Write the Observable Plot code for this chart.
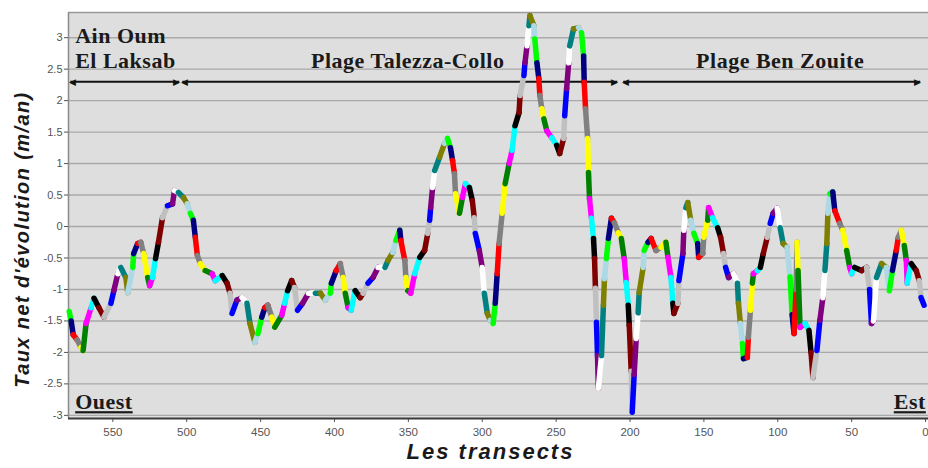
<!DOCTYPE html>
<html>
<head>
<meta charset="utf-8">
<script src="https://cdn.jsdelivr.net/npm/d3@7"></script>
<script src="https://cdn.jsdelivr.net/npm/@observablehq/plot@0.6"></script>
<style>
  body { margin: 0; background: #fff; }
  #chart { width: 928px; height: 468px; overflow: hidden; }
</style>
</head>
<body>
<div id="chart"></div>
<script>
// Transect numbers (x) and net shoreline change rate in m/yr (y)
const transects = [
  579.5, 578.2, 576.8, 574.2, 571.5, 570.1, 568.1, 564.7, 562.7, 559.4,
  556.0, 551.3, 549.3, 546.6, 544.6, 541.2, 539.9, 536.5, 535.9, 533.2,
  531.1, 529.1, 526.4, 525.1, 523.1, 521.1, 519.1, 516.4, 513.0, 509.6,
  508.3, 505.6, 502.2, 499.6, 497.5, 495.5, 494.2, 492.8, 490.8, 487.5,
  482.8, 480.7, 476.0, 472.7, 470.7, 469.3, 466.0, 462.6, 459.2, 457.2,
  453.9, 451.8, 449.2, 447.1, 445.1, 442.4, 440.4, 435.7, 433.7, 431.7,
  429.0, 427.0, 425.0, 421.6, 417.6, 412.9, 409.5, 406.2, 402.8, 402.1,
  398.8, 396.1, 394.1, 392.7, 390.7, 388.7, 386.0, 382.6, 380.6, 377.3,
  373.9, 370.5, 365.8, 363.8, 360.5, 358.4, 355.8, 355.1, 352.4, 351.7,
  350.4, 348.4, 345.7, 342.3, 339.0, 336.9, 335.6, 334.9, 333.6, 332.2,
  328.9, 325.5, 323.5, 321.5, 320.1, 318.8, 318.1, 315.4, 313.4, 311.4,
  308.7, 306.7, 305.4, 304.7, 302.0, 300.0, 298.6, 296.6, 294.6, 292.6,
  291.2, 289.9, 288.6, 286.5, 284.5, 281.8, 279.8, 277.8, 275.1, 274.4,
  271.8, 271.1, 269.7, 268.4, 267.7, 265.0, 264.4, 263.0, 261.7, 261.0,
  259.7, 258.3, 256.3, 252.9, 249.6, 247.6, 244.9, 244.2, 242.9, 241.5,
  240.8, 238.2, 234.8, 232.8, 231.4, 231.0, 230.1, 228.7, 228.1, 227.4,
  226.1, 224.7, 224.0, 223.4, 222.7, 222.0, 221.4, 219.3, 218.0, 217.3,
  216.0, 214.6, 212.6, 210.6, 207.9, 205.9, 203.9, 202.5, 201.2, 200.5,
  199.2, 198.5, 197.2, 195.8, 194.5, 193.8, 191.1, 190.4, 187.8, 185.7,
  182.4, 179.0, 175.7, 174.3, 172.3, 171.0, 170.3, 167.6, 166.9, 164.2,
  163.6, 162.2, 160.9, 158.9, 156.8, 154.2, 153.5, 150.8, 150.1, 147.4,
  146.8, 144.1, 140.7, 138.7, 136.7, 135.3, 133.3, 130.0, 127.3, 126.6,
  125.3, 123.9, 123.2, 120.6, 119.9, 118.5, 117.2, 116.5, 113.8, 111.8,
  109.8, 107.1, 105.1, 103.1, 100.4, 98.4, 96.4, 93.7, 91.7, 90.3,
  89.0, 87.6, 87.0, 86.3, 84.9, 81.6, 78.9, 77.5, 76.2, 73.5,
  71.5, 69.5, 68.1, 66.8, 66.1, 64.8, 62.8, 61.4, 58.1, 56.0,
  53.4, 51.3, 50.0, 48.0, 43.3, 39.9, 37.9, 36.6, 35.2, 33.2,
  29.8, 26.5, 24.5, 22.4, 19.8, 18.4, 16.4, 14.4, 13.0, 12.4,
  9.7, 6.3, 4.3, 3.0, 1.0
];
const rates = [
  -1.35, -1.5, -1.72, -1.8, -1.92, -1.97, -1.54, -1.29, -1.14, -1.29,
  -1.44, -1.22, -1.02, -0.75, -0.65, -0.81, -1.05, -0.65, -0.43, -0.27,
  -0.25, -0.43, -0.81, -0.94, -0.81, -0.51, -0.25, 0.14, 0.33, 0.36,
  0.57, 0.54, 0.46, 0.36, 0.21, 0.1, -0.17, -0.46, -0.59, -0.7,
  -0.75, -0.86, -0.78, -0.9, -1.06, -1.38, -1.17, -1.13, -1.22, -1.54,
  -1.84, -1.7, -1.44, -1.29, -1.25, -1.44, -1.6, -1.41, -1.22, -1.02,
  -0.86, -0.97, -1.33, -1.22, -1.06, -1.06, -1.06, -1.17, -1.06, -0.9,
  -0.7, -0.59, -0.81, -1.06, -1.29, -1.33, -1.02, -1.13, -1.06, -0.9,
  -0.81, -0.65, -0.65, -0.54, -0.41, -0.22, -0.06, -0.22, -0.54, -0.81,
  -1.02, -1.06, -0.75, -0.49, -0.38, -0.11, 0.1, 0.3, 0.62, 0.89,
  1.1, 1.32, 1.4, 1.25, 1.05, 0.84, 0.52, 0.21, 0.46, 0.68,
  0.62, 0.41, 0.14, -0.11, -0.38, -0.65, -1.06, -1.38, -1.49, -1.54,
  -1.22, -0.75, -0.27, 0.21, 0.68, 1.0, 1.21, 1.6, 1.81, 2.08,
  2.4, 2.6, 2.87, 3.19, 3.35, 3.19, 2.98, 2.6, 2.35, 2.08,
  1.87, 1.71, 1.52, 1.41, 1.29, 1.16, 1.4, 1.76, 2.19, 2.6,
  2.87, 3.14, 3.16, 3.08, 2.71, 2.29, 1.87, 1.4, 0.86, 0.44,
  0.13, -0.19, -0.51, -0.98, -1.52, -2.05, -2.57, -2.05, -1.25, -0.83,
  -0.51, -0.19, 0.13, 0.06, -0.1, -0.19, -0.51, -0.89, -1.25, -1.57,
  -2.3, -2.95, -2.35, -1.78, -1.37, -1.05, -0.65, -0.38, -0.25, -0.19,
  -0.38, -0.33, -0.25, -0.49, -0.81, -1.22, -1.38, -1.22, -0.86, -0.43,
  -0.06, 0.3, 0.38, 0.1, -0.11, -0.27, -0.49, -0.43, -0.17, 0.1,
  0.3, 0.14, -0.02, -0.17, -0.43, -0.65, -0.81, -0.75, -0.9, -1.22,
  -1.54, -1.86, -2.1, -2.08, -1.76, -1.33, -0.9, -0.75, -0.7, -0.65,
  -0.43, -0.17, 0.05, 0.21, 0.29, -0.02, -0.27, -0.33, -0.8, -1.4,
  -1.7, -1.0, -0.25, -0.7, -1.6, -1.54, -1.65, -2.0, -2.4, -1.97,
  -1.49, -1.13, -0.7, -0.27, 0.21, 0.52, 0.55, 0.25, 0.05, -0.06,
  -0.38, -0.65, -0.75, -0.65, -0.7, -0.65, -1.0, -1.54, -1.5, -0.81,
  -0.59, -0.65, -1.02, -0.7, -0.38, -0.17, -0.06, -0.3, -0.54, -0.9,
  -0.59, -0.7, -0.86, -1.13, -1.25
];
const segmentColors = [
  "#00ff00", "#000080", "#ff0000", "#808080", "#ffff00", "#008000",
  "#ff00ff", "#00ffff", "#000000", "#800000", "#c0c0c0", "#0000ff",
  "#800080", "#ffffff", "#008080", "#808000", "#add8e6"
];
const yTicks = [3, 2.5, 2, 1.5, 1, 0.5, 0, -0.5, -1, -1.5, -2, -2.5, -3];
const xTicks = [550, 500, 450, 400, 350, 300, 250, 200, 150, 100, 50, 0];
const xDomain = [580, -2];
const yDomain = [-3.05, 3.4];

const segments = transects.slice(1).map((t, i) => ({
  x1: transects[i], y1: rates[i], x2: t, y2: rates[i + 1],
  c: segmentColors[i % segmentColors.length]
}));

const beachSpans = [
  {from: 578.8, to: 505.0},
  {from: 503.0, to: 208.6},
  {from: 204.6, to: 3.6}
];
const arrowY = 2.3;
const serif = "'Liberation Serif', 'Times New Roman', serif";
const serifLabel = {fontFamily: serif, fontWeight: "bold", fontSize: 22, fill: "#1a1a1a"};

const yTitle = "Taux net d'évolution (m/an)";
const xTitle = "Les transects";

const plot = Plot.plot({
  width: 928,
  height: 468,
  marginLeft: 68,
  marginRight: 0,
  marginTop: 12,
  marginBottom: 50,
  style: {fontFamily: "'Liberation Sans', Arial, sans-serif", background: "#fff", overflow: "hidden"},
  x: {domain: xDomain},
  y: {domain: yDomain},
  color: {type: "identity"},
  marks: [
    Plot.frame({fill: "#dedede", stroke: null}),
    Plot.ruleY(yTicks, {stroke: "#a9a9a9", strokeWidth: 1.4}),
    Plot.ruleY([yDomain[1]], {stroke: "#9a9a9a", strokeWidth: 1.5}),
    Plot.ruleX([xDomain[0]], {stroke: "#8a8a8a", strokeWidth: 1.5}),
    Plot.axisY(yTicks, {tickSize: 4, tickPadding: 2, tickFormat: d => String(d), fontSize: 11, color: "#555", label: null}),
    Plot.axisX(xTicks, {tickSize: 4, tickPadding: 5, tickFormat: d => String(d), fontSize: 11.5, color: "#555", label: null}),
    Plot.ruleY([yDomain[0]], {stroke: "#3a3a3a", strokeWidth: 2.2}),
    // region arrows
    Plot.link(beachSpans, {x1: "from", x2: "to", y1: arrowY, y2: arrowY, stroke: "#111", strokeWidth: 2}),
    Plot.text(beachSpans, {x: "from", y: arrowY, text: () => "◀", textAnchor: "start", dx: -1, fontSize: 9, fill: "#111"}),
    Plot.text(beachSpans, {x: "to", y: arrowY, text: () => "▶", textAnchor: "end", dx: 1, fontSize: 9, fill: "#111"}),
    // shoreline change line
    Plot.link(segments, {x1: "x1", y1: "y1", x2: "x2", y2: "y2", stroke: "c", strokeWidth: 5.5, strokeLinecap: "round"}),
    // annotations
    Plot.text(["Ain Oum"], {text: d => d, x: 575.5, y: 3.02, textAnchor: "start", ...serifLabel}),
    Plot.text(["El Laksab"], {text: d => d, x: 575.5, y: 2.63, textAnchor: "start", ...serifLabel}),
    Plot.text(["Plage Talezza-Collo"], {text: d => d, x: 350.4, y: 2.63, ...serifLabel}),
    Plot.text(["Plage Ben Zouite"], {text: d => d, x: 98.4, y: 2.63, ...serifLabel}),
    Plot.text(["Ouest"], {text: d => d, x: 575.5, y: -2.79, textAnchor: "start", ...serifLabel}),
    Plot.text(["Est"], {text: d => d, x: 21.5, y: -2.79, textAnchor: "start", ...serifLabel}),
    // axis titles
    Plot.text([yTitle], {text: d => d, frameAnchor: "left", textAnchor: "middle", dx: -46, dy: 24, rotate: -90, fontSize: 20, fontWeight: "bold", fontStyle: "italic", fill: "#1a1a1a"}),
    Plot.text([xTitle], {text: d => d, frameAnchor: "bottom", textAnchor: "middle", dx: -8, dy: 40, fontSize: 22, fontWeight: "bold", fontStyle: "italic", fill: "#1a1a1a"})
  ]
});

const svg = d3.select(plot);
svg.selectAll("text")
  .filter(function() { return this.textContent === "Ouest" || this.textContent === "Est"; })
  .style("text-decoration", "underline");
svg.selectAll("text")
  .filter(function() { return ["Ain Oum", "El Laksab", "Plage Talezza-Collo", "Plage Ben Zouite", "Ouest", "Est"].includes(this.textContent); })
  .style("letter-spacing", "0.5px");
svg.selectAll("text")
  .filter(function() { return this.textContent === yTitle; })
  .style("letter-spacing", "1.4px");
svg.selectAll("text")
  .filter(function() { return this.textContent === xTitle; })
  .style("letter-spacing", "2px");

document.getElementById("chart").appendChild(plot);
</script>
</body>
</html>
